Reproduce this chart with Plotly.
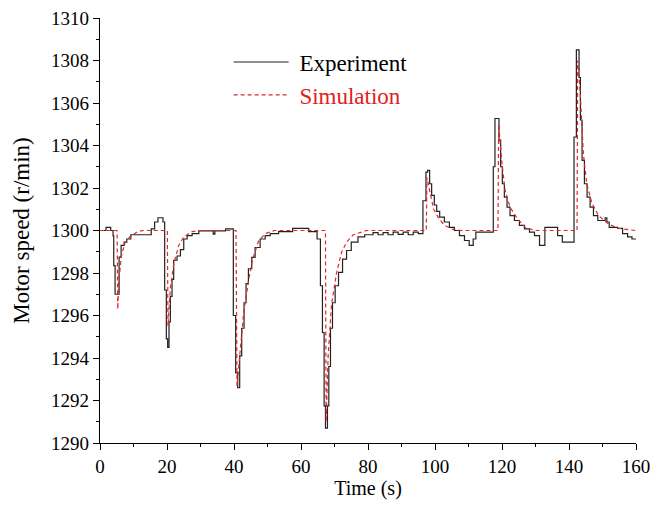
import plotly.graph_objects as go

# Experiment (step-like measured speed)
exp_t = [0, 1.8, 3.2, 3.9, 4.1, 4.5, 5.7, 6.3, 7.2, 8.0, 9.2, 15.3, 16.3, 17.3, 18.8, 19.3, 19.8, 20.2,
         20.6, 21.0, 21.5, 22.0, 23.0, 24.0, 25.0, 26.0, 27.5, 29.5, 33.8, 34.3, 37.5, 39.8, 40.5, 41.1,
         41.7, 42.3, 43.0, 43.6, 44.3, 45.3, 46.3, 47.8, 49.3, 50.8, 53.3, 57.5, 62.3, 64.8, 65.8, 66.4,
         66.9, 67.3, 67.9, 68.3, 68.8, 69.4, 70.2, 71.2, 72.4, 73.6, 75.0, 77.0, 79.0, 81.5, 83, 84.5, 86,
         87.5, 89, 90.5, 92, 93.5, 95, 96.4, 97.3, 97.8, 98.4, 99.0, 99.8, 100.5, 101.4, 102.8, 104.3,
         105.8, 107.3, 108.8, 110.2, 111.4, 112.2, 117.4, 117.9, 119.1, 119.6, 120.1, 120.7, 121.5, 122.4,
         123.7, 125.2, 126.7, 128.2, 129.7, 131.2, 132.8, 136.6, 138.0, 141.5, 142.2, 143.0, 143.4, 143.9,
         144.6, 145.4, 146.3, 147.3, 148.6, 150.8, 151.3, 152.0, 154.5, 156.0, 157.5, 158.8, 160]
exp_v = [1300.0, 1300.15, 1300.0, 1299.75, 1298.35, 1297.0, 1298.75, 1299.3, 1299.45, 1299.6, 1299.8,
         1300.08, 1300.4, 1300.6, 1300.4, 1297.2, 1294.9, 1294.5, 1295.7, 1296.9, 1297.7, 1298.6, 1298.8,
         1299.1, 1299.6, 1299.76, 1299.85, 1299.98, 1299.83, 1299.98, 1300.08, 1296.0, 1293.3, 1292.6,
         1294.1, 1295.4, 1296.6, 1297.5, 1298.2, 1298.74, 1299.2, 1299.6, 1299.76, 1299.85, 1299.95,
         1300.1, 1299.95, 1299.6, 1297.4, 1295.2, 1291.75, 1290.7, 1291.75, 1293.6, 1295.4, 1296.6,
         1297.4, 1298.03, 1298.65, 1299.06, 1299.45, 1299.7, 1299.8, 1299.9, 1299.8, 1299.9, 1299.8,
         1299.92, 1299.82, 1299.92, 1299.8, 1299.92, 1299.85, 1301.4, 1302.75, 1302.83, 1302.2, 1301.65,
         1301.2, 1300.9, 1300.63, 1300.4, 1300.15, 1300.0, 1299.76, 1299.53, 1299.3, 1299.6, 1299.92,
         1303.0, 1305.27, 1304.25, 1303.0, 1302.2, 1301.57, 1301.1, 1300.7, 1300.47, 1300.24, 1300.08,
         1299.92, 1299.76, 1299.3, 1300.15, 1299.76, 1299.45, 1304.4, 1308.5, 1307.2, 1305.2, 1303.3,
         1302.2, 1301.57, 1301.1, 1300.7, 1300.47, 1300.6, 1300.4, 1300.15, 1300.1, 1299.85, 1299.7,
         1299.6, 1299.6]

# Simulation
sim_t = [0, 5.1, 5.3, 5.6, 6.4, 7.4, 8.9, 11.3, 13, 20.1, 20.3, 21, 22, 23.5, 25, 27.5, 30, 40.6, 40.9,
         41.9, 42.9, 44.4, 45.5, 47.3, 49.3, 52, 67.3, 67.5, 68.1, 69.1, 70.6, 72.1, 73.6, 75.6, 79.6,
         97.4, 97.6, 98.5, 99.6, 101.2, 102.8, 105.4, 108, 118.8, 119.0, 119.9, 120.9, 122.4, 124.4,
         126.9, 129.9, 142.4, 142.6, 143.3, 143.8, 144.3, 145.3, 146.8, 148.8, 151.8, 154.8, 159.8]
sim_v = [1300, 1300, 1296.3, 1297.6, 1298.8, 1299.4, 1299.7, 1299.95, 1300, 1300, 1295.5, 1297.3, 1298.4,
         1299.3, 1299.7, 1299.95, 1300, 1300, 1292.7, 1294.4, 1296.15, 1297.7, 1298.6, 1299.5, 1299.85,
         1300, 1300, 1291.0, 1294.1, 1296.5, 1298.0, 1298.97, 1299.45, 1299.8, 1300,
         1300, 1302.5, 1301.8, 1301.0, 1300.55, 1300.25, 1300.05, 1300, 1300, 1305.0, 1303.3, 1301.9,
         1301.1, 1300.6, 1300.15, 1300, 1300, 1308.0, 1306.6, 1304.9, 1303.6, 1302.2, 1301.3, 1300.7,
         1300.3, 1300.1, 1300]

x_ticks = [0, 20, 40, 60, 80, 100, 120, 140, 160]
y_ticks = [1290, 1292, 1294, 1296, 1298, 1300, 1302, 1304, 1306, 1308, 1310]

FONT = "Liberation Serif, Times New Roman, serif"

fig = go.Figure()
fig.add_trace(go.Scatter(x=exp_t, y=exp_v, mode="lines", name="\u00a0Experiment",
                         line=dict(color="#222222", width=1.2, shape="hv")))
fig.add_trace(go.Scatter(x=sim_t, y=sim_v, mode="lines",
                         name="<span style='color:#e0201c'>\u00a0Simulation</span>",
                         line=dict(color="#e3262a", width=1.2, dash="4px,3px")))

axis_common = dict(showline=True, linecolor="black", linewidth=1.3, ticks="outside", ticklen=6,
                   tickwidth=1.2, tickcolor="black", showgrid=False, zeroline=False, mirror=False,
                   automargin=False,
                   tickfont=dict(family=FONT, size=19, color="black"))

fig.update_xaxes(range=[0, 160], tickvals=x_ticks,
                 minor=dict(dtick=10, ticks="outside", ticklen=3, tickcolor="black", tickwidth=1.2),
                 title=dict(text="Time (s)", font=dict(family=FONT, size=20, color="black"), standoff=4),
                 **axis_common)
fig.update_yaxes(range=[1290, 1310], tickvals=y_ticks,
                 minor=dict(dtick=1, ticks="outside", ticklen=3, tickcolor="black", tickwidth=1.2),
                 title=dict(text="Motor speed (r/min)", font=dict(family=FONT, size=23, color="black"),
                            standoff=14),
                 **axis_common)

fig.update_layout(
    width=652, height=506,
    margin=dict(l=100, r=16, t=18, b=63),
    paper_bgcolor="white", plot_bgcolor="white",
    legend=dict(x=0.24, y=0.947, xanchor="left", yanchor="top", bgcolor="rgba(0,0,0,0)",
                font=dict(family=FONT, size=23, color="black"), itemwidth=55, tracegroupgap=4),
    showlegend=True,
)

fig.write_html("out.html", config={"displayModeBar": False},
               post_script="document.body.style.margin='0';")
